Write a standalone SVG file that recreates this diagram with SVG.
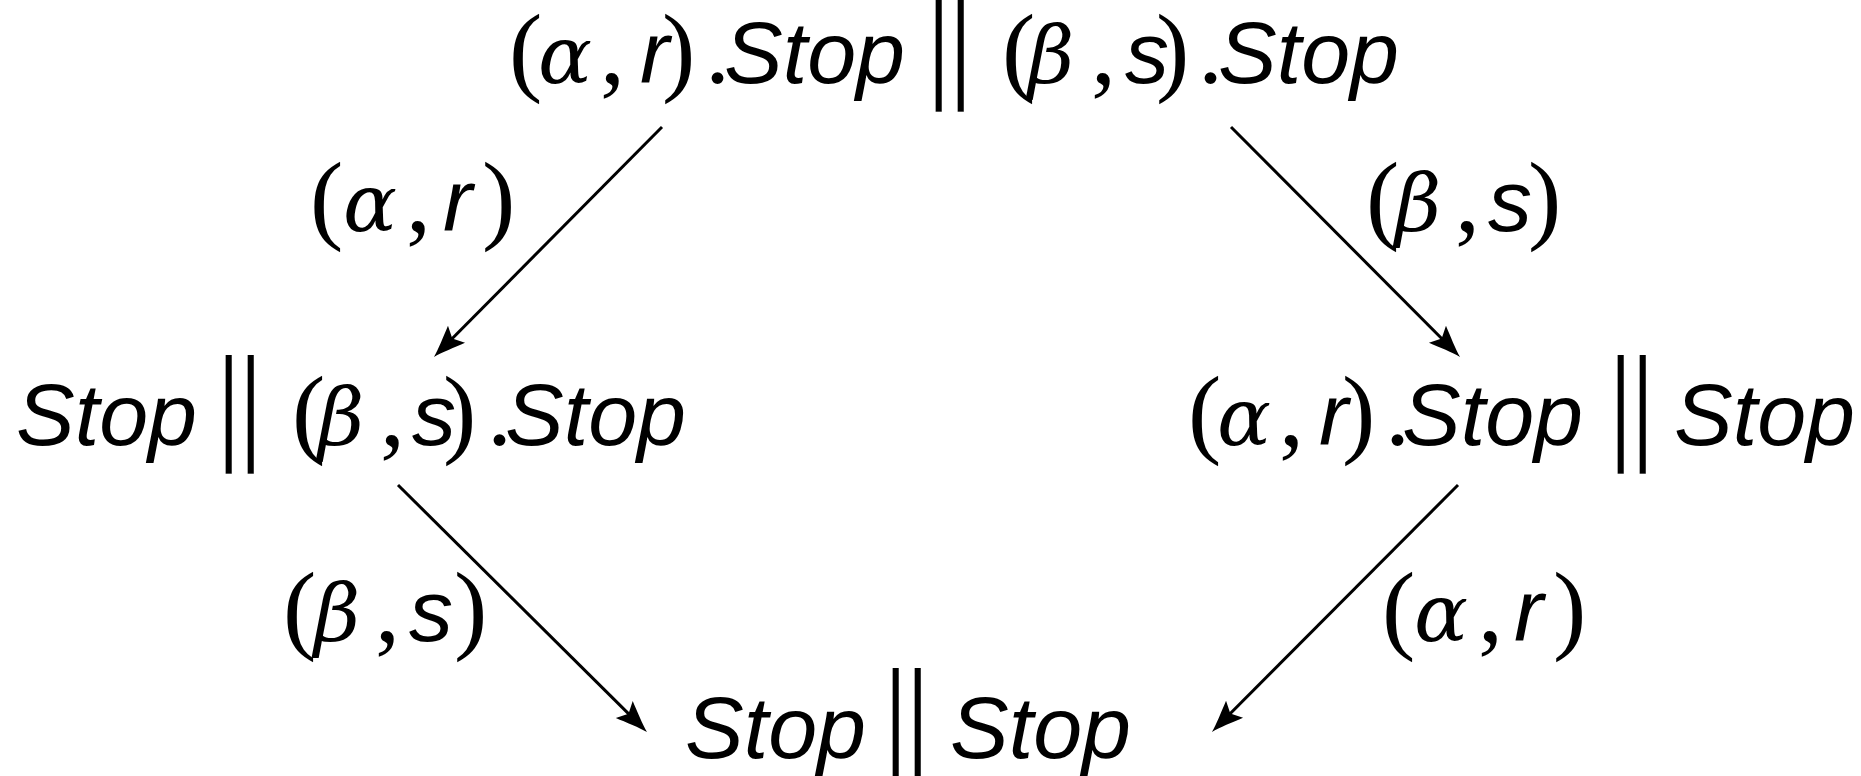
<svg xmlns="http://www.w3.org/2000/svg" width="1861" height="776" viewBox="0 0 1861 776">
  <style>
    text { fill: #000; }
    .rm { font-family: "Liberation Serif", serif; font-size: 100px; }
    .mi { font-family: "DejaVu Serif", serif; font-style: italic; font-size: 80px; }
    .ss { font-family: "Liberation Sans", sans-serif; font-style: italic; font-size: 88px; }
    /* parallel bars: widened, then thinned with a white outline */
    .rel { font-family: "DejaVu Sans", sans-serif; font-size: 88px; text-anchor: middle; stroke: #fff; stroke-width: 3; }
    .edge { fill: none; stroke: #000; stroke-width: 3; marker-end: url(#head); }
  </style>
  <defs>
    <marker id="head" markerUnits="userSpaceOnUse" markerWidth="50" markerHeight="40" viewBox="-35 -20 50 40" refX="0" refY="0" orient="auto" overflow="visible">
      <path d="M8,0 C0,-2 -14,-8 -24,-12 L-18,0 L-24,12 C-14,8 0,2 8,0 Z" fill="#000"/>
    </marker>
  </defs>

  <!-- states -->
  <g id="node-start">
    <text y="83">
      <tspan class="rm" x="509">(</tspan><tspan class="mi" x="538">α</tspan><tspan class="rm" x="600">,</tspan><tspan class="ss" x="640">r</tspan><tspan class="rm" x="662">)</tspan><tspan class="rm" x="705">.</tspan><tspan class="ss" x="724">Stop</tspan>
    </text>
    <text class="rel" transform="translate(950,87) scale(1.6,1.42)">∥</text>
    <text y="83">
      <tspan class="rm" x="1002">(</tspan><tspan class="mi" x="1028">β</tspan><tspan class="rm" x="1091">,</tspan><tspan class="ss" x="1125">s</tspan><tspan class="rm" x="1156">)</tspan><tspan class="rm" x="1198">.</tspan><tspan class="ss" x="1218">Stop</tspan>
    </text>
  </g>

  <g id="node-left">
    <text y="445"><tspan class="ss" x="16">Stop</tspan></text>
    <text class="rel" transform="translate(240,449) scale(1.6,1.42)">∥</text>
    <text y="445">
      <tspan class="rm" x="292">(</tspan><tspan class="mi" x="318">β</tspan><tspan class="rm" x="380">,</tspan><tspan class="ss" x="412">s</tspan><tspan class="rm" x="443">)</tspan><tspan class="rm" x="487">.</tspan><tspan class="ss" x="505">Stop</tspan>
    </text>
  </g>

  <g id="node-right">
    <text y="445">
      <tspan class="rm" x="1188">(</tspan><tspan class="mi" x="1217">α</tspan><tspan class="rm" x="1279">,</tspan><tspan class="ss" x="1319">r</tspan><tspan class="rm" x="1342">)</tspan><tspan class="rm" x="1385">.</tspan><tspan class="ss" x="1402">Stop</tspan>
    </text>
    <text class="rel" transform="translate(1632,449) scale(1.6,1.42)">∥</text>
    <text y="445"><tspan class="ss" x="1674">Stop</tspan></text>
  </g>

  <g id="node-end">
    <text y="758"><tspan class="ss" x="685">Stop</tspan></text>
    <text class="rel" transform="translate(907,762) scale(1.6,1.42)">∥</text>
    <text y="758"><tspan class="ss" x="950">Stop</tspan></text>
  </g>

  <!-- transitions -->
  <g id="connectors">
    <g id="edge-start-left">
      <path class="edge" d="M662,127 L439.6,351.3"/>
      <text y="231"><tspan class="rm" x="310">(</tspan><tspan class="mi" x="343">α</tspan><tspan class="rm" x="406">,</tspan><tspan class="ss" x="443">r</tspan><tspan class="rm" x="482">)</tspan></text>
    </g>
    <g id="edge-start-right">
      <path class="edge" d="M1231,127 L1454.4,351.3"/>
      <text y="231"><tspan class="rm" x="1366">(</tspan><tspan class="mi" x="1395">β</tspan><tspan class="rm" x="1455">,</tspan><tspan class="ss" x="1488">s</tspan><tspan class="rm" x="1528">)</tspan></text>
    </g>
    <g id="edge-left-end">
      <path class="edge" d="M398,485 L641.3,726.4"/>
      <text y="641"><tspan class="rm" x="283">(</tspan><tspan class="mi" x="314">β</tspan><tspan class="rm" x="375">,</tspan><tspan class="ss" x="409">s</tspan><tspan class="rm" x="454">)</tspan></text>
    </g>
    <g id="edge-right-end">
      <path class="edge" d="M1458,485 L1217.6,726.3"/>
      <text y="641"><tspan class="rm" x="1382">(</tspan><tspan class="mi" x="1414">α</tspan><tspan class="rm" x="1478">,</tspan><tspan class="ss" x="1514">r</tspan><tspan class="rm" x="1553">)</tspan></text>
    </g>
  </g>
</svg>
